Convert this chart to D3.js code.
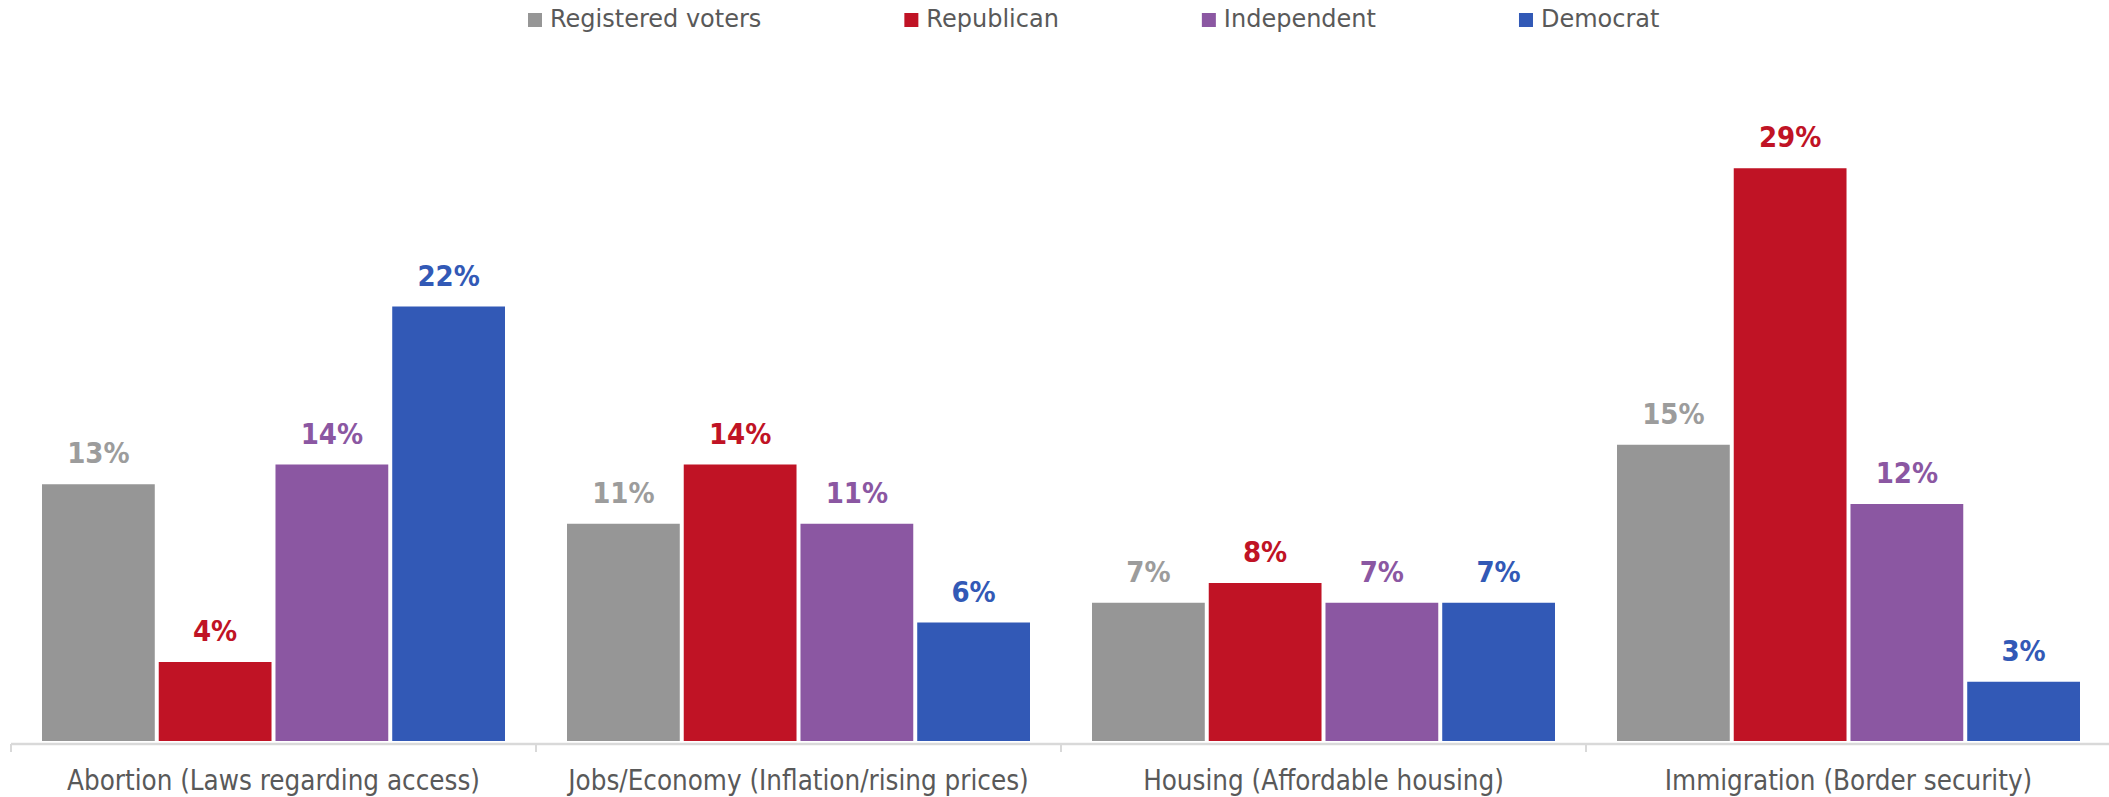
<!DOCTYPE html>
<html>
<head>
<meta charset="utf-8">
<script src="https://cdn.jsdelivr.net/npm/d3@7"></script>
<style>
  html, body { margin: 0; padding: 0; background: #fff; }
  svg { display: block; }
  .cond { font-family: "DejaVu Sans Condensed", "DejaVu Sans", sans-serif; font-stretch: condensed; }
  .reg { font-family: "DejaVu Sans", sans-serif; }
</style>
</head>
<body>
<svg id="chart" width="2109" height="797"></svg>
<script>
const categories = [
  "Abortion (Laws regarding access)",
  "Jobs/Economy (Inflation/rising prices)",
  "Housing (Affordable housing)",
  "Immigration (Border security)"
];
const seriesNames = ["Registered voters", "Republican", "Independent", "Democrat"];
const seriesColors = ["#969696", "#C01325", "#8B57A2", "#3259B6"];
const labelColors = ["#9c9c9c", "#C01325", "#8B57A2", "#3259B6"];
const registeredVoters = [13, 11, 7, 15];
const republican = [4, 14, 8, 29];
const independent = [14, 11, 7, 12];
const democrat = [22, 6, 7, 3];
const seriesValues = [registeredVoters, republican, independent, democrat];

const svg = d3.select("#chart");
const W = 2109, H = 797;
const baseY = 741;

const x0 = d3.scaleBand().domain(categories).range([11, 2111]).paddingInner(0).paddingOuter(0);
const x1 = d3.scaleBand().domain(seriesNames)
  .range([31, x0.bandwidth() - 31]).paddingInner(0.034).paddingOuter(0);
const y = d3.scaleLinear().domain([0, 30]).range([baseY, baseY - 30 * 19.75]);

const rows = categories.map((c, i) => ({
  cat: c,
  vals: seriesNames.map((s, j) => ({ s, j, v: seriesValues[j][i] }))
}));

const groups = svg.append("g").selectAll("g").data(rows).join("g")
  .attr("transform", d => `translate(${x0(d.cat)},0)`);

groups.selectAll("rect").data(d => d.vals).join("rect")
  .attr("x", d => x1(d.s))
  .attr("y", d => y(d.v))
  .attr("width", x1.bandwidth())
  .attr("height", d => y(0) - y(d.v))
  .attr("fill", d => seriesColors[d.j]);

groups.selectAll("text.val").data(d => d.vals).join("text")
  .attr("class", "val cond")
  .attr("x", d => x1(d.s) + x1.bandwidth() / 2)
  .attr("y", d => y(d.v) - 21)
  .attr("text-anchor", "middle")
  .attr("font-weight", "bold")
  .attr("font-size", 29)
  .attr("fill", d => labelColors[d.j])
  .text(d => d.v + "%");

// axis
const axis = svg.append("g").attr("transform", `translate(0,${baseY + 3})`)
  .call(d3.axisBottom(x0).tickSize(0).tickFormat(""));
axis.select(".domain").attr("stroke", "#d9d9d9").attr("stroke-width", 2.5)
  .attr("d", `M11,0H${W}`);
const bounds = categories.map(c => x0(c));
svg.append("g").selectAll("line").data(bounds).join("line")
  .attr("x1", d => d).attr("x2", d => d)
  .attr("y1", baseY + 3).attr("y2", baseY + 11)
  .attr("stroke", "#d9d9d9").attr("stroke-width", 2);

svg.append("g").selectAll("text").data(categories).join("text")
  .attr("class", "cond")
  .attr("x", d => x0(d) + x0.bandwidth() / 2)
  .attr("y", 790)
  .attr("text-anchor", "middle")
  .attr("font-size", 27.5)
  .attr("fill", "#595959")
  .text(d => d);

// legend
const leg = svg.append("g");
let lx = 528;
seriesNames.forEach((s, j) => {
  leg.append("rect").attr("x", lx).attr("y", 13).attr("width", 14).attr("height", 14)
    .attr("fill", seriesColors[j]);
  const t = leg.append("text").attr("class", "reg")
    .attr("x", lx + 22).attr("y", 27)
    .attr("font-size", 24).attr("fill", "#595959").text(s);
  lx += 22 + t.node().getComputedTextLength() + 143;
});
</script>
</body>
</html>
